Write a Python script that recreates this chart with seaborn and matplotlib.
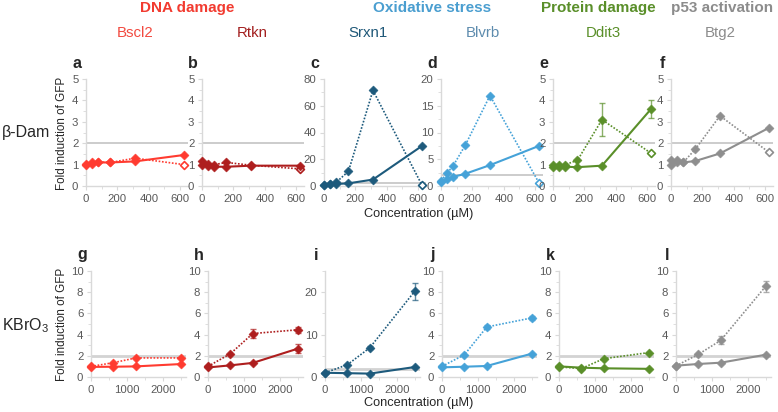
"""Fold induction of GFP reporters for beta-Dam and KBrO3 exposures."""

import matplotlib

matplotlib.use("Agg")

import matplotlib.pyplot as plt
import pandas as pd
import seaborn as sns
from matplotlib.ticker import MultipleLocator

GENES = ["Bscl2", "Rtkn", "Srxn1", "Blvrb", "Ddit3", "Btg2"]
GENE_COLORS = ["#FF3B30", "#AE1E1E", "#1D5A7C", "#45A2D8", "#5A8F29", "#8E8E8E"]
LABEL_COLORS = ["#F24A40", "#A31F1F", "#1F5878", "#5E8CAE", "#5A8F29", "#8C8C8C"]
PANEL_LETTERS_TOP = ["a", "b", "c", "d", "e", "f"]
PANEL_LETTERS_BOTTOM = ["g", "h", "i", "j", "k", "l"]

GROUPS = ["DNA damage", "Oxidative stress", "Protein damage", "p53 activation"]
GROUP_COLORS = ["#F23B30", "#4A9ED0", "#5A8F2A", "#8C8C8C"]

# beta-Dam (µM)
CONC_BDAM = [0, 39, 78, 156, 312, 625]
BDAM_SOLID = {
    "Bscl2": [1.0, 1.05, 1.1, 1.1, 1.15, 1.45],
    "Rtkn": [1.0, 0.95, 0.9, 0.9, 0.95, 0.95],
    "Srxn1": [1.0, 1.2, 1.5, 2.0, 4.8, 30.0],
    "Blvrb": [0.8, 1.3, 1.7, 2.3, 3.9, 7.5],
    "Ddit3": [0.9, 0.9, 0.9, 0.88, 0.95, 3.6],
    "Btg2": [1.0, 1.1, 1.1, 1.17, 1.52, 2.72],
}
BDAM_DOTTED = {
    "Bscl2": [1.05, 1.1, 1.12, 1.1, 1.3, 1.0],
    "Rtkn": [1.15, 1.05, 1.0, 1.1, 0.97, 0.8],
    "Srxn1": [1.0, 1.5, 2.8, 11.0, 71.5, 0.5],
    "Blvrb": [1.0, 2.4, 3.8, 7.7, 16.9, 0.55],
    "Ddit3": [1.0, 1.0, 1.0, 1.2, 3.1, 1.53],
    "Btg2": [1.2, 1.2, 1.1, 1.73, 3.28, 1.57],
}
BDAM_SOLID_ERR = {"Ddit3": [0, 0, 0, 0, 0, 0.42]}
BDAM_DOTTED_ERR = {"Ddit3": [0, 0, 0, 0, 0.78, 0]}

# KBrO3 (µM)
CONC_KBRO3 = [0, 625, 1250, 2500]
KBRO3_SOLID = {
    "Bscl2": [0.95, 0.97, 1.0, 1.22],
    "Rtkn": [0.9, 1.1, 1.33, 2.67],
    "Srxn1": [1.0, 0.9, 0.8, 2.35],
    "Blvrb": [0.91, 0.97, 1.04, 2.2],
    "Ddit3": [1.0, 0.88, 0.82, 0.77],
    "Btg2": [1.07, 1.23, 1.35, 2.1],
}
KBRO3_DOTTED = {
    "Bscl2": [1.0, 1.35, 1.8, 1.8],
    "Rtkn": [1.0, 2.2, 4.1, 4.45],
    "Srxn1": [1.0, 2.9, 6.9, 20.2],
    "Blvrb": [1.0, 2.1, 4.72, 5.57],
    "Ddit3": [0.95, 0.8, 1.73, 2.3],
    "Btg2": [1.05, 2.14, 3.46, 8.55],
}
KBRO3_SOLID_ERR = {"Rtkn": [0, 0, 0, 0.45]}
KBRO3_DOTTED_ERR = {
    "Rtkn": [0, 0, 0.4, 0.27],
    "Srxn1": [0, 0, 0.4, 1.95],
    "Blvrb": [0, 0, 0.15, 0.2],
    "Btg2": [0, 0, 0.38, 0.55],
}

BDAM_YLIM = [5, 5, 80, 20, 5, 5]
BDAM_YSTEP = [1, 1, 20, 5, 1, 1]
KBRO3_YLIM = [10, 10, 25, 10, 10, 10]
KBRO3_YSTEP = [2, 2, 10, 2, 2, 2]

W, H = 778, 412
TOP_LEFTS = [86, 202, 324, 441, 553, 671]
BOTTOM_LEFTS = [91, 208, 325, 442, 559, 676]

sns.set_theme(style="white")
plt.rcParams["font.family"] = ["Liberation Sans", "DejaVu Sans"]
plt.rcParams["mathtext.fontset"] = "custom"
plt.rcParams["mathtext.rm"] = "Liberation Sans"

fig = plt.figure(figsize=(W / 100, H / 100), dpi=100)


def add_axes_px(left, top, width, height):
    return fig.add_axes([left / W, 1 - (top + height) / H, width / W, height / H])


def draw_series(ax, x, y, err, color, dotted, open_last):
    df = pd.DataFrame({"conc": x, "fold": y})
    sns.lineplot(
        data=df, x="conc", y="fold", ax=ax, color=color,
        linestyle=(0, (1, 1)) if dotted else "-", linewidth=1.2 if dotted else 1.5,
        zorder=3, clip_on=False,
    )
    if err is not None:
        for xi, yi, ei in zip(x, y, err):
            if ei > 0:
                ax.errorbar(xi, yi, yerr=ei, color=color, alpha=0.7, lw=1.0,
                            capsize=2.2, capthick=1.0, zorder=2, clip_on=False)
    filled = df.iloc[:-1] if open_last else df
    sns.scatterplot(data=filled, x="conc", y="fold", ax=ax, color=color,
                    marker="D", s=21, edgecolor=color, linewidth=0.4,
                    zorder=4, clip_on=False, legend=False)
    if open_last:
        sns.scatterplot(data=df.iloc[-1:], x="conc", y="fold", ax=ax,
                        marker="D", s=16, facecolor="white", edgecolor=color,
                        linewidth=1.2, zorder=4, clip_on=False, legend=False)


def style_axes(ax, ymax, ystep, xmax, xstep, thr_color, thr_lw):
    ax.set_xlim(0, xmax)
    ax.set_ylim(0, ymax)
    ax.axhline(2, color=thr_color, lw=thr_lw, zorder=1)
    ax.yaxis.set_major_locator(MultipleLocator(ystep))
    ax.yaxis.set_minor_locator(MultipleLocator(ystep / 2))
    ax.xaxis.set_major_locator(MultipleLocator(xstep))
    ax.xaxis.set_minor_locator(MultipleLocator(xstep / 2))
    for side in ["top", "right"]:
        ax.spines[side].set_visible(False)
    for side in ["left", "bottom"]:
        ax.spines[side].set_color("#D9D9D9")
        ax.spines[side].set_linewidth(1.0)
    ax.tick_params(axis="both", which="both", direction="out", color="#D9D9D9",
                   labelcolor="#595959", labelsize=8.2, pad=2.5)
    ax.tick_params(which="major", length=3, width=0.8, left=True, bottom=True)
    ax.tick_params(which="minor", length=2, width=0.6, left=True, bottom=True)
    ax.set_xlabel("")
    ax.set_ylabel("")


rows = [
    (CONC_BDAM, BDAM_SOLID, BDAM_DOTTED, BDAM_SOLID_ERR, BDAM_DOTTED_ERR,
     BDAM_YLIM, BDAM_YSTEP, TOP_LEFTS, 79, 107, 102, 650, 200,
     PANEL_LETTERS_TOP, True, "#BFBFBF", 1.1),
    (CONC_KBRO3, KBRO3_SOLID, KBRO3_DOTTED, KBRO3_SOLID_ERR, KBRO3_DOTTED_ERR,
     KBRO3_YLIM, KBRO3_YSTEP, BOTTOM_LEFTS, 271, 106, 95, 2650, 1000,
     PANEL_LETTERS_BOTTOM, False, "#D3D3D3", 2.0),
]

for (conc, solid, dotted, solid_err, dotted_err, ylims, ysteps, lefts, top,
     height, width, xmax, xstep, letters, open_last, thr_color, thr_lw) in rows:
    for i, gene in enumerate(GENES):
        ax = add_axes_px(lefts[i], top, width, height)
        color = GENE_COLORS[i]
        draw_series(ax, conc, dotted[gene], dotted_err.get(gene), color, True, open_last)
        draw_series(ax, conc, solid[gene], solid_err.get(gene), color, False, False)
        style_axes(ax, ylims[i], ysteps[i], xmax, xstep, thr_color, thr_lw)
        fig.text((lefts[i] - 9) / W, 1 - (top - 16) / H, letters[i],
                 fontsize=11.5, fontweight="bold", ha="center", va="center")

# group headers and gene names
group_x = [187, 432, 598, 722]
for label, gx, gc in zip(GROUPS, group_x, GROUP_COLORS):
    fig.text(gx / W, 1 - 8 / H, label, color=gc, fontsize=11, fontweight="bold",
             ha="center", va="center")
gene_x = [135, 252, 368, 483, 603, 720]
for gene, gx, gc in zip(GENES, gene_x, LABEL_COLORS):
    fig.text(gx / W, 1 - 33 / H, gene, color=gc, fontsize=10.8,
             ha="center", va="center")

# row labels and axis titles
fig.text(2 / W, 1 - 133 / H, "β-Dam", fontsize=11.5, ha="left", va="center")
fig.text(2 / W, 1 - 326 / H, "KBrO$_3$", fontsize=11.5, ha="left", va="center")
for yc in [133, 324]:
    fig.text(62 / W, 1 - yc / H, "Fold induction of GFP", fontsize=8.4,
             rotation=90, ha="center", va="center")
fig.text(419 / W, 1 - 214 / H, "Concentration (µM)", fontsize=9.2, ha="center", va="center")
fig.text(419 / W, 1 - 403 / H, "Concentration (µM)", fontsize=9.2, ha="center", va="center")

fig.savefig("out.png", dpi=100)
plt.close(fig)
